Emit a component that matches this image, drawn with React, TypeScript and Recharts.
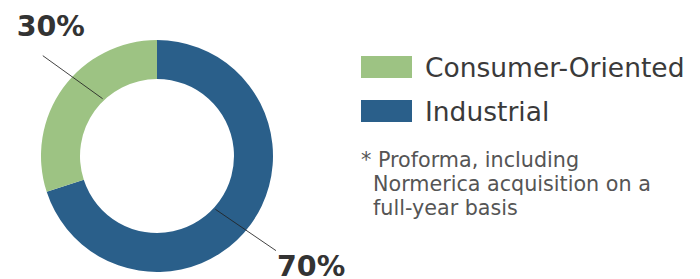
import { PieChart, Pie, Cell, Legend } from "recharts"

const segments = ["Industrial", "Consumer-Oriented"]
const shares = [70, 30]
const colors = ["#2a5f8a", "#9dc383"]
const legendOrder = ["Consumer-Oriented", "Industrial"]
const footnote = ["* Proforma, including", "Normerica acquisition on a", "full-year basis"]

const data = segments.map((name, i) => ({ name, value: shares[i], color: colors[i] }))

const RADIAN = Math.PI / 180

// label line angle tweaks (start, end) relative to slice middle
const lineTweaks = [
  [-6.4, -2.5],
  [-10.5, -5.3],
]

function renderLabel(props: any) {
  const { cx, cy, midAngle, innerRadius, outerRadius, index, value } = props
  const [a0, a1] = lineTweaks[index]
  const r0 = innerRadius + 2
  const r1 = outerRadius + 36
  const x0 = cx + r0 * Math.cos(-(midAngle + a0) * RADIAN)
  const y0 = cy + r0 * Math.sin(-(midAngle + a0) * RADIAN)
  const x1 = cx + r1 * Math.cos(-(midAngle + a1) * RADIAN)
  const y1 = cy + r1 * Math.sin(-(midAngle + a1) * RADIAN)
  const tx = index === 0 ? x1 + 1 : x1 + 8
  const ty = index === 0 ? y1 + 25 : y1 - 20
  return (
    <g>
      <line x1={x0} y1={y0} x2={x1} y2={y1} stroke="#222" strokeOpacity={0.85} strokeWidth={1} />
      <text
        x={tx}
        y={ty}
        textAnchor={index === 0 ? "start" : "middle"}
        fill="#333"
        fontFamily="DejaVu Sans"
        fontWeight="bold"
        fontSize={28.5}
      >
        {value}%
      </text>
    </g>
  )
}

function LegendBox() {
  return (
    <div style={{ fontFamily: "DejaVu Sans", color: "#3a3a3a" }}>
      {legendOrder.map((name) => {
        const c = colors[segments.indexOf(name)]
        return (
          <div key={name} style={{ display: "flex", alignItems: "center", height: 44 }}>
            <span style={{ display: "inline-block", width: 51, height: 22, background: c, marginRight: 13 }} />
            <span style={{ fontSize: 26.5 }}>{name}</span>
          </div>
        )
      })}
      <div style={{ marginTop: 15, fontSize: 20.7, lineHeight: "24px", color: "#555" }}>
        {footnote.map((line, i) => (
          <div key={i} style={{ paddingLeft: i === 0 ? 0 : 12 }}>{line}</div>
        ))}
      </div>
    </div>
  )
}

export default function App() {
  return (
    <div style={{ position: "absolute", left: 0, top: 0, width: 700, height: 279, background: "#fff" }}>
      <PieChart width={700} height={279} margin={{ top: 0, right: 0, bottom: 0, left: 0 }}>
        <Pie
          data={data}
          dataKey="value"
          nameKey="name"
          cx={157}
          cy={156}
          innerRadius={77}
          outerRadius={116}
          startAngle={90}
          endAngle={-270}
          stroke="none"
          label={renderLabel}
          labelLine={false}
          isAnimationActive={false}
        >
          {data.map((entry, index) => (
            <Cell key={`cell-${index}`} fill={entry.color} />
          ))}
        </Pie>
        <Legend
          content={() => <LegendBox />}
          layout="vertical"
          wrapperStyle={{ left: 361, top: 45, width: 339 }}
        />
      </PieChart>
    </div>
  )
}
